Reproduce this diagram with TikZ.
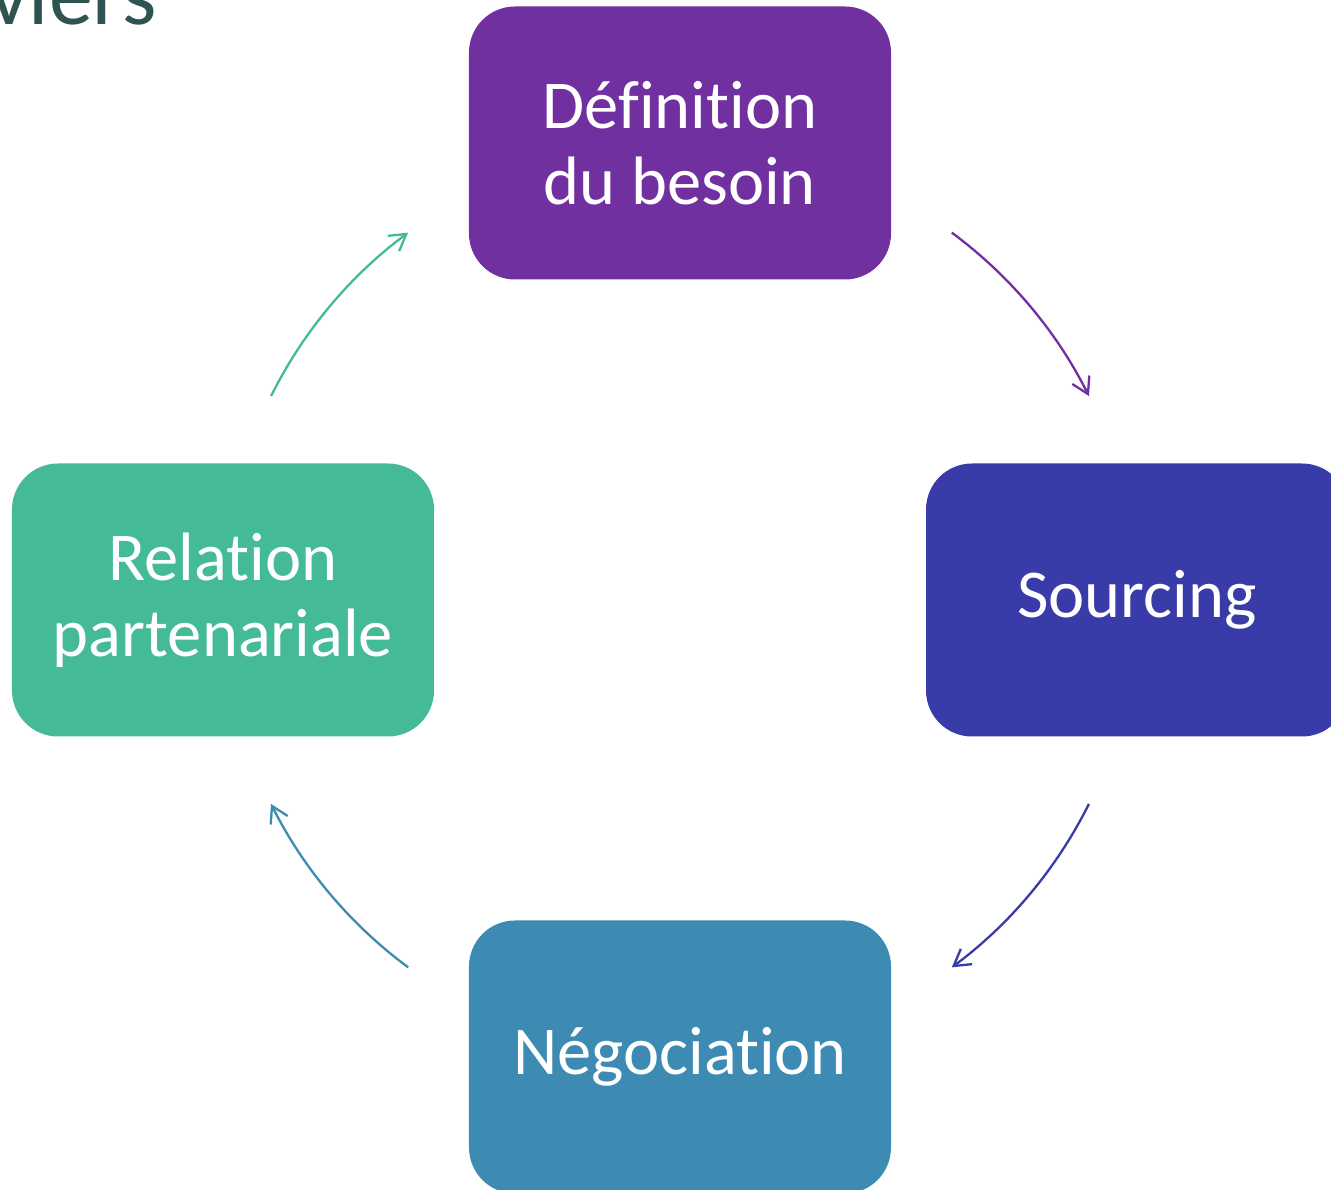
\documentclass[tikz,border=0pt]{standalone}
\usepackage{fontspec}
\setmainfont{Carlito}[Ligatures={NoCommon}]
\usetikzlibrary{arrows.meta}

\definecolor{defcol}{HTML}{7030A0}
\definecolor{srccol}{HTML}{393CA8}
\definecolor{negcol}{HTML}{3D8BB3}
\definecolor{relcol}{HTML}{44BA97}
\definecolor{titlecol}{HTML}{2F5350}

\tikzset{
    phase/.style={rounded corners=46pt, minimum width=422pt, minimum height=273pt, inner sep=0pt,
        text=white, align=center, font=\fontsize{68.5}{76}\selectfont},
    cycle arrow/.style={line width=2.3pt, -{Straight Barb[length=16pt,width=19pt]}}
}

\begin{document}
\begin{tikzpicture}

        % Fix the page to the slide crop, with the centre of the ring at the origin
        \useasboundingbox (-680pt,-590pt) rectangle (651pt,600pt);

        % Define the number of phases and the radius of the ring
        \def\n{4}
        \def\radius{457pt}

        % Title, cut by the top edge
        \node[anchor=base east, text=titlecol, font=\fontsize{88}{100}\selectfont] (title) at (-520pt,575pt) {viers};

        % Loop to place the phases in a ring
        \foreach \i/\txt/\col in {0/{Définition\\du besoin}/defcol, 1/Sourcing/srccol, 2/Négociation/negcol, 3/{Relation\\partenariale}/relcol} {
            \pgfmathsetmacro{\angle}{90 - \i * 360 / \n}
            \node[phase, fill=\col] (P\i) at (\angle:\radius) {\txt};
        }

        % Loop to draw the curved arrows from one phase to the next
        \foreach \i/\arcfrom/\col in {0/53.5/defcol, 1/-26.5/srccol, 2/-126.5/negcol, 3/153.5/relcol} {
            \pgfmathsetmacro{\arcto}{\arcfrom - 27}
            \coordinate (A\i) at (\arcfrom:\radius);
            \draw[cycle arrow, color=\col] (A\i) arc[start angle=\arcfrom, end angle=\arcto, radius=\radius];
        }

    \end{tikzpicture}
\end{document}
